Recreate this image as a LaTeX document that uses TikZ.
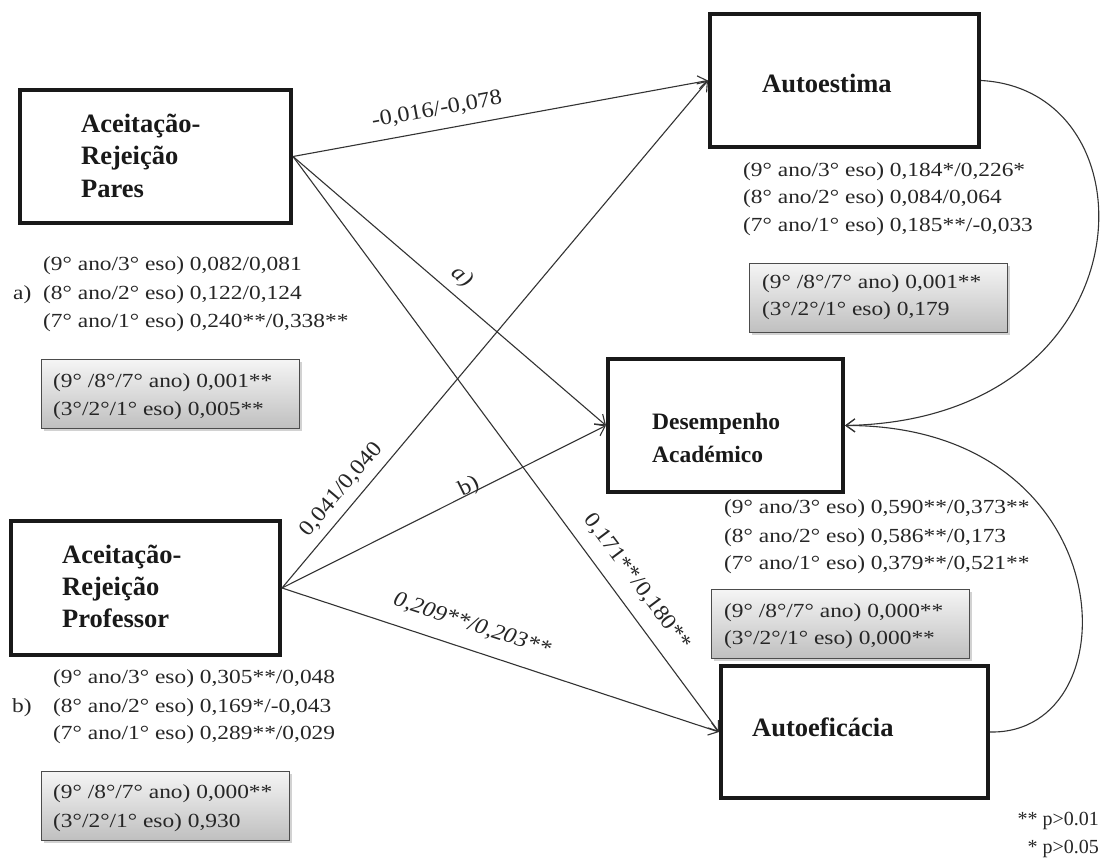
\documentclass[tikz,border=0pt]{standalone}
\usepackage{fontspec}
\setmainfont{Liberation Serif}
\usepackage{graphicx}
\usetikzlibrary{arrows.meta,shadows}
\newcommand{\wdx}[1]{\scalebox{1.17}[1]{#1}}
\newcommand{\wex}[1]{\scalebox{1.1}[1]{#1}}
\begin{document}
\begin{tikzpicture}[x=1pt,y=-1pt,
  mainbox/.style={draw=black!90, line width=4pt, fill=white, inner sep=0pt, outer sep=2pt},
  conn/.style={draw=black!80, line width=1.1pt, -{Straight Barb[length=9pt,width=13pt,line width=1.1pt]}},
  boldlbl/.style={font=\fontsize{26.5}{30}\selectfont\bfseries, anchor=base west, inner sep=0pt, text=black!90},
  stat/.style={font=\fontsize{20}{23}\selectfont, anchor=base west, inner sep=0pt, text=black!85},
  greybox/.style={draw=black!70, line width=1pt, top color=gray!8, bottom color=gray!50,
    drop shadow={opacity=0.35, shadow xshift=2pt, shadow yshift=-2.5pt}, inner sep=0pt, anchor=north west},
  elabel/.style={font=\fontsize{22}{26}\selectfont, inner sep=0pt, text=black!85},
]
\useasboundingbox (0,0) rectangle (1101,861);
\fill[white] (0,0) rectangle (1101,861);

% main boxes
\node[mainbox, minimum width=271pt, minimum height=133pt] (pares) at (155.5,156.5) {};
\node[mainbox, minimum width=269pt, minimum height=133pt] (autoestima) at (844.5,80.5) {};
\node[mainbox, minimum width=235pt, minimum height=133pt] (desempenho) at (725.5,425.5) {};
\node[mainbox, minimum width=267pt, minimum height=132pt] (autoef) at (854.5,732) {};
\node[mainbox, minimum width=269pt, minimum height=134pt] (professor) at (145.5,588) {};

% box labels
\node[boldlbl] (pares1) at (81,133) {Aceitação-};
\node[boldlbl] (pares2) at (81,165) {Rejeição};
\node[boldlbl] (pares3) at (81,198) {Pares};
\node[boldlbl] (autoestimaT) at (762,93) {Autoestima};
\node[boldlbl, font=\fontsize{23.5}{28}\selectfont\bfseries] (des1) at (652,429) {Desempenho};
\node[boldlbl, font=\fontsize{23.5}{28}\selectfont\bfseries] (des2) at (652,462) {Académico};
\node[boldlbl] (autoefT) at (752,736) {Autoeficácia};
\node[boldlbl] (prof1) at (62,563) {Aceitação-};
\node[boldlbl] (prof2) at (62,595) {Rejeição};
\node[boldlbl] (prof3) at (62,627) {Professor};

% grey boxes
\node[greybox, minimum width=258pt, minimum height=69pt] (gpares) at (41,359) {};
\node[greybox, minimum width=258pt, minimum height=69pt] (gautoestima) at (749,263) {};
\node[greybox, minimum width=258pt, minimum height=69pt] (gdes) at (711,589) {};
\node[greybox, minimum width=248pt, minimum height=69pt] (gprof) at (41,771) {};

% stats: Pares
\node[stat] (pa) at (13,299) {\wdx{a)}};
\node[stat] (ps1) at (43,271) {\wdx{(9° ano/3° eso) 0,082/0,081}};
\node[stat] (ps2) at (43,299) {\wdx{(8° ano/2° eso) 0,122/0,124}};
\node[stat] (ps3) at (43,327) {\wdx{(7° ano/1° eso) 0,240**/0,338**}};
\node[stat] (pg1) at (53,387) {\wdx{(9° /8°/7° ano) 0,001**}};
\node[stat] (pg2) at (53,415) {\wdx{(3°/2°/1° eso) 0,005**}};

% stats: Autoestima
\node[stat] (as1) at (743,177) {\wdx{(9° ano/3° eso) 0,184*/0,226*}};
\node[stat] (as2) at (743,204) {\wdx{(8° ano/2° eso) 0,084/0,064}};
\node[stat] (as3) at (743,232) {\wdx{(7° ano/1° eso) 0,185**/-0,033}};
\node[stat] (ag1) at (762,288) {\wdx{(9° /8°/7° ano) 0,001**}};
\node[stat] (ag2) at (762,316) {\wdx{(3°/2°/1° eso) 0,179}};

% stats: Desempenho
\node[stat] (ds1) at (724,513) {\wdx{(9° ano/3° eso) 0,590**/0,373**}};
\node[stat] (ds2) at (724,542) {\wdx{(8° ano/2° eso) 0,586**/0,173}};
\node[stat] (ds3) at (724,569) {\wdx{(7° ano/1° eso) 0,379**/0,521**}};
\node[stat] (dg1) at (724,617) {\wdx{(9° /8°/7° ano) 0,000**}};
\node[stat] (dg2) at (724,644) {\wdx{(3°/2°/1° eso) 0,000**}};

% stats: Professor
\node[stat] (pb) at (12,712) {\wdx{b)}};
\node[stat] (rs1) at (53,683) {\wdx{(9° ano/3° eso) 0,305**/0,048}};
\node[stat] (rs2) at (53,712) {\wdx{(8° ano/2° eso) 0,169*/-0,043}};
\node[stat] (rs3) at (53,739) {\wdx{(7° ano/1° eso) 0,289**/0,029}};
\node[stat] (rg1) at (53,798) {\wdx{(9° /8°/7° ano) 0,000**}};
\node[stat] (rg2) at (53,827) {\wdx{(3°/2°/1° eso) 0,930}};

% footnote
\node[stat, anchor=base east] (fn1) at (1099,825) {** p>0.01};
\node[stat, anchor=base east] (fn2) at (1099,853) {* p>0.05};

% connectors
\draw[conn] (pares.east) -- (autoestima.west);
\draw[conn] (pares.east) -- (desempenho.west);
\draw[conn] (pares.east) -- (autoef.west);
\draw[conn] (professor.east) -- (autoestima.west);
\draw[conn] (professor.east) -- (desempenho.west);
\draw[conn] (professor.east) -- (autoef.west);
\draw[conn] (autoestima.east) .. controls (1160,90) and (1150,420) .. (desempenho.east);
\draw[conn] (autoef.east) .. controls (1135,735) and (1125,425) .. (desempenho.east);

% edge labels
\node[elabel, rotate=10.3] (l1) at (437,110) {\wex{-0,016/-0,078}};
\node[elabel, rotate=-40] (l2) at (462,277) {\wex{\itshape a)}};
\node[elabel, rotate=49.8] (l3) at (341.5,489.5) {\wex{0,041/0,040}};
\node[elabel, rotate=26.3] (l4) at (469,487) {\wex{b)}};
\node[elabel, rotate=-18.1] (l5) at (472,625) {\wex{\itshape 0,209**/0,203**}};
\node[elabel, rotate=-53.2] (l6) at (637,582) {\wex{0,171**/0,180**}};
\end{tikzpicture}
\end{document}
